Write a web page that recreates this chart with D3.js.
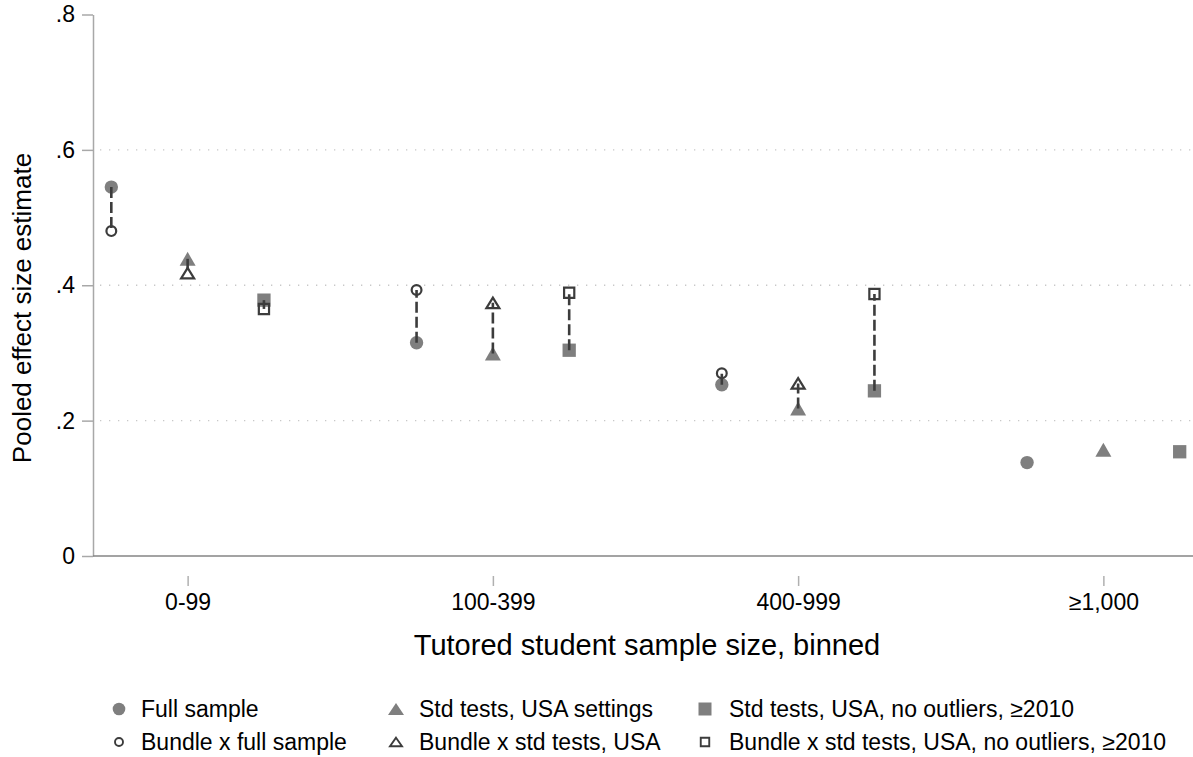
<!DOCTYPE html>
<html>
<head>
<meta charset="utf-8">
<script src="https://cdn.jsdelivr.net/npm/d3@7"></script>
<style>
  html, body { margin: 0; padding: 0; background: #fff; }
  svg { display: block; font-family: "Liberation Sans", Arial, Helvetica, sans-serif; }
</style>
</head>
<body>
<svg id="chart" width="1193" height="757"></svg>
<script>
// ---- data ----
const categories = ["0-99", "100-399", "400-999", "\u22651,000"];
const yTicks = [0, 0.2, 0.4, 0.6, 0.8];
const yTickLabels = ["0", ".2", ".4", ".6", ".8"];
const gridTicks = [0.2, 0.4, 0.6];

const fullSample      = [0.545, 0.315, 0.253, 0.138];
const bundleFull      = [0.480, 0.393, 0.270, null];
const stdUSA          = [0.439, 0.299, 0.218, 0.157];
const bundleStdUSA    = [0.418, 0.374, 0.255, null];
const stdNoOut        = [0.378, 0.304, 0.244, 0.154];
const bundleStdNoOut  = [0.365, 0.389, 0.387, null];

const legendLabels = [
  "Full sample", "Std tests, USA settings", "Std tests, USA, no outliers, \u22652010",
  "Bundle x full sample", "Bundle x std tests, USA", "Bundle x std tests, USA, no outliers, \u22652010"
];

// ---- layout ----
const svg = d3.select("#chart");
const FILL = "#7f7f7f", DARK = "#3c3c3c";
const x = d3.scaleLinear().domain([0.69, 4.31]).range([93, 1198]);
const y = d3.scaleLinear().domain([0, 0.8]).range([556, 14.5]);
const offset = 0.25;

// gridlines
svg.append("g").selectAll("line").data(gridTicks).join("line")
  .attr("x1", 100).attr("x2", 1193)
  .attr("y1", d => y(d)).attr("y2", d => y(d))
  .attr("stroke", "#c8c8c8").attr("stroke-width", 1.3)
  .attr("stroke-dasharray", "1.3,7.7");

// y axis
const yAxis = d3.axisLeft(y).tickValues(yTicks)
  .tickFormat((d, i) => yTickLabels[i]).tickSize(11).tickPadding(7).tickSizeOuter(0);
const gy = svg.append("g").attr("transform", "translate(93,0)").call(yAxis);
gy.select(".domain").attr("stroke", "#a8a8a8").attr("stroke-width", 1.5);
gy.selectAll(".tick line").attr("stroke", "#a8a8a8").attr("stroke-width", 1.5);
gy.selectAll(".tick text").attr("font-size", 23).attr("fill", "#000")
  .attr("font-family", "Liberation Sans, Arial, sans-serif");

// bottom plot border
svg.append("line").attr("x1", 93).attr("x2", 1193)
  .attr("y1", y(0)).attr("y2", y(0))
  .attr("stroke", "#858585").attr("stroke-width", 1.6);

// x axis (ticks offset below)
const xAxis = d3.axisBottom(x).tickValues([1, 2, 3, 4])
  .tickFormat((d, i) => categories[i]).tickSize(10).tickPadding(8).tickSizeOuter(0);
const gx = svg.append("g").attr("transform", "translate(0,576)").call(xAxis);
gx.select(".domain").remove();
gx.selectAll(".tick line").attr("stroke", "#b0b0b0").attr("stroke-width", 1.5);
gx.selectAll(".tick text").attr("font-size", 23).attr("fill", "#000")
  .attr("font-family", "Liberation Sans, Arial, sans-serif");

// axis titles
svg.append("text").attr("x", 647).attr("y", 655).attr("text-anchor", "middle")
  .attr("font-size", 29).text("Tutored student sample size, binned");
svg.append("text").attr("transform", "translate(31,308) rotate(-90)")
  .attr("text-anchor", "middle").attr("font-size", 26).text("Pooled effect size estimate");

// marker helpers
function triPath(w, h) {
  return `M0,${-h/2}L${w/2},${h/2}L${-w/2},${h/2}Z`;
}
function sqPath(s) {
  return `M${-s/2},${-s/2}H${s/2}V${s/2}H${-s/2}Z`;
}

const series = [
  { filled: fullSample, hollow: bundleFull, off: -offset, shape: "circle" },
  { filled: stdUSA, hollow: bundleStdUSA, off: 0, shape: "triangle" },
  { filled: stdNoOut, hollow: bundleStdNoOut, off: offset, shape: "square" }
];

const plot = svg.append("g");
series.forEach(s => {
  const pts = s.filled.map((v, i) => ({ i, v, h: s.hollow[i] }));
  const g = plot.append("g");
  // filled markers
  pts.forEach(p => {
    const cx = x(p.i + 1 + s.off), cy = y(p.v);
    if (s.shape === "circle") g.append("circle").attr("cx", cx).attr("cy", cy).attr("r", 6.7).attr("fill", FILL);
    else if (s.shape === "triangle") g.append("path").attr("d", triPath(16, 14)).attr("transform", `translate(${cx},${cy})`).attr("fill", FILL);
    else g.append("path").attr("d", sqPath(13.3)).attr("transform", `translate(${cx},${cy})`).attr("fill", FILL);
  });
  // hollow markers
  pts.filter(p => p.h != null).forEach(p => {
    const cx = x(p.i + 1 + s.off), cy = y(p.h);
    const common = sel => sel.attr("fill", "none").attr("stroke", DARK).attr("stroke-width", 2.2);
    if (s.shape === "circle") common(g.append("circle").attr("cx", cx).attr("cy", cy).attr("r", 4.9));
    else if (s.shape === "triangle") common(g.append("path").attr("d", triPath(13, 10.5)).attr("transform", `translate(${cx},${cy})`).attr("stroke-linejoin", "miter"));
    else common(g.append("path").attr("d", sqPath(10.2)).attr("transform", `translate(${cx},${cy})`));
  });
  // connecting dashed lines
  pts.filter(p => p.h != null).forEach(p => {
    const cx = x(p.i + 1 + s.off);
    g.append("line").attr("x1", cx).attr("x2", cx)
      .attr("y1", y(p.v)).attr("y2", y(p.h))
      .attr("stroke", DARK).attr("stroke-width", 2.6)
      .attr("stroke-dasharray", "11,4");
  });
});

// legend
const legX = [119, 396, 705];
const legTextX = [141, 419, 729];
const legY = [709, 742];
const lg = svg.append("g");
legendLabels.forEach((lab, k) => {
  const col = k % 3, row = Math.floor(k / 3);
  const cx = legX[col], cy = legY[row];
  const hollow = row === 1;
  if (col === 0) {
    if (!hollow) lg.append("circle").attr("cx", cx).attr("cy", cy).attr("r", 6.3).attr("fill", FILL);
    else lg.append("circle").attr("cx", cx).attr("cy", cy).attr("r", 4).attr("fill", "none").attr("stroke", DARK).attr("stroke-width", 1.9);
  } else if (col === 1) {
    if (!hollow) lg.append("path").attr("d", triPath(16, 12)).attr("transform", `translate(${cx},${cy})`).attr("fill", FILL);
    else lg.append("path").attr("d", triPath(12, 8.5)).attr("transform", `translate(${cx},${cy})`).attr("fill", "none").attr("stroke", DARK).attr("stroke-width", 1.9);
  } else {
    if (!hollow) lg.append("path").attr("d", sqPath(13)).attr("transform", `translate(${cx},${cy})`).attr("fill", FILL);
    else lg.append("path").attr("d", sqPath(8.5)).attr("transform", `translate(${cx},${cy})`).attr("fill", "none").attr("stroke", DARK).attr("stroke-width", 1.9);
  }
  lg.append("text").attr("x", legTextX[col]).attr("y", cy + 8).attr("font-size", 23).attr("fill", "#000").text(lab);
});
</script>
</body>
</html>
